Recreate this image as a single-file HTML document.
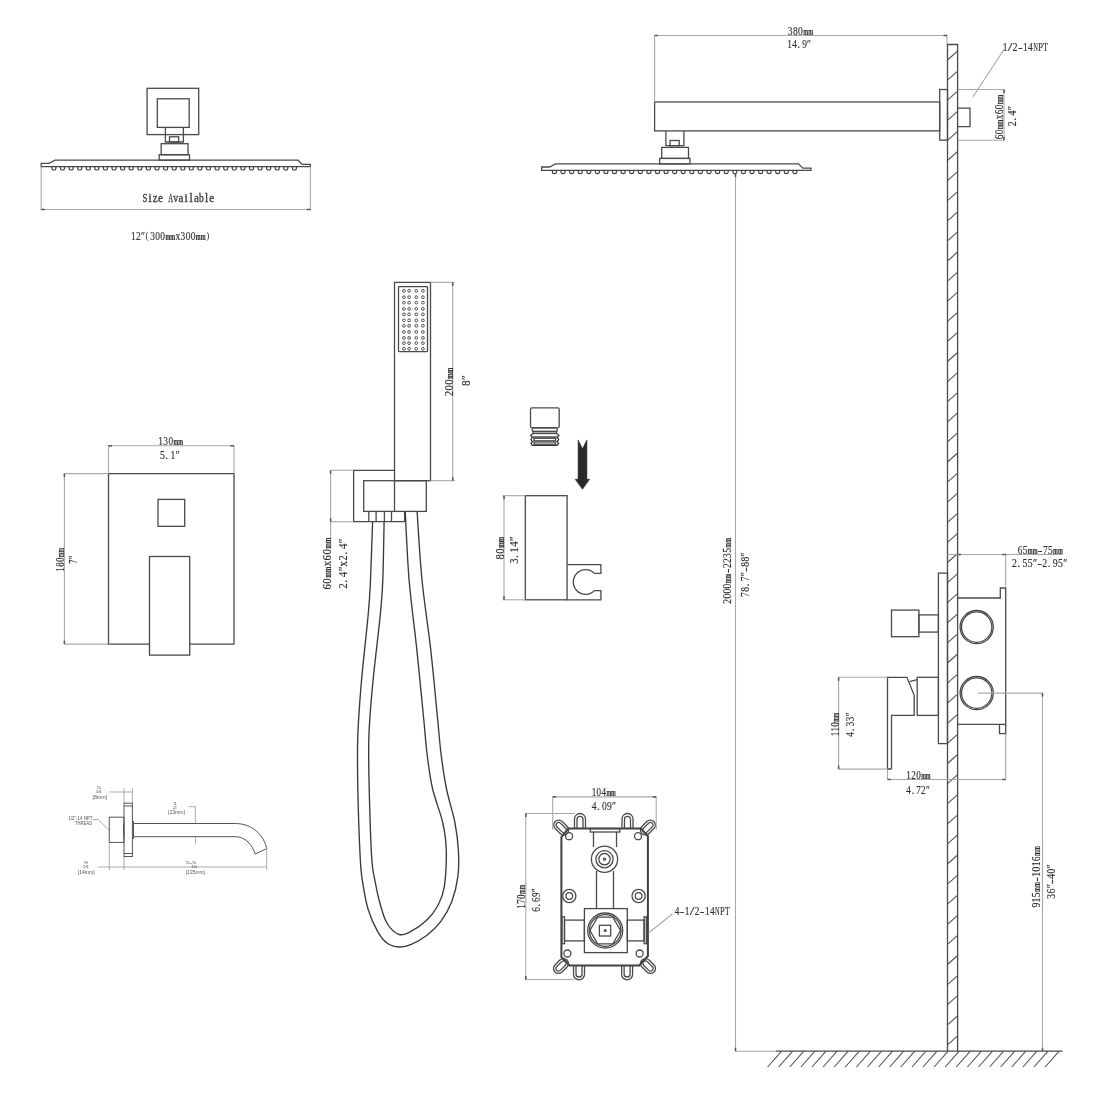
<!DOCTYPE html>
<html><head><meta charset="utf-8"><style>
html,body{margin:0;padding:0;background:#fff;width:1096px;height:1096px;overflow:hidden}
svg{display:block;will-change:transform}
.o{stroke:#4a4a4a;fill:none;stroke-width:1.3}
.o2{stroke:#404040;fill:none;stroke-width:2.2}
.ob{stroke:#404040;fill:none;stroke-width:2}
.d{stroke:#a8a8a8;fill:none;stroke-width:1.1}
.ar{stroke:#555;fill:none;stroke-width:1.5}
.h{stroke:#505050;fill:none;stroke-width:1.05}
.hs{stroke:#3a3a3a;fill:none;stroke-width:1.35}
.nz{stroke:#404040;fill:none;stroke-width:1.2}
.th{stroke:#303030;fill:none;stroke-width:1.3}
.th2{stroke:#888;fill:none;stroke-width:0.8}
.sp .o{stroke:#555;stroke-width:1.0}
.sp .d{stroke:#777;stroke-width:0.6}
.dot{stroke:#404040;fill:none;stroke-width:0.9}
.t text{font-family:"Liberation Serif",serif;fill:#2e2e2e;stroke:#2e2e2e;stroke-width:0.15}
.ts{font-family:"Liberation Sans",sans-serif;fill:#555}
</style></head><body>
<svg width="1096" height="1096" viewBox="0 0 1096 1096">
<path class="o" d="M41.2,163.3 L49,163.3 L55,160.2 L298,160.2 L302.3,164.4 L310.4,164.4 L310.4,166.6 L41.2,166.6 Z" />
<path class="nz" d="M51.9,166.6 L51.9,168.4 Q51.9,170 53.9,170 Q55.9,170 55.9,168.4 L55.9,166.6" />
<path class="nz" d="M60.5,166.6 L60.5,168.4 Q60.5,170 62.5,170 Q64.5,170 64.5,168.4 L64.5,166.6" />
<path class="nz" d="M69.1,166.6 L69.1,168.4 Q69.1,170 71.1,170 Q73.1,170 73.1,168.4 L73.1,166.6" />
<path class="nz" d="M77.7,166.6 L77.7,168.4 Q77.7,170 79.7,170 Q81.7,170 81.7,168.4 L81.7,166.6" />
<path class="nz" d="M86.3,166.6 L86.3,168.4 Q86.3,170 88.3,170 Q90.3,170 90.3,168.4 L90.3,166.6" />
<path class="nz" d="M94.8,166.6 L94.8,168.4 Q94.8,170 96.8,170 Q98.8,170 98.8,168.4 L98.8,166.6" />
<path class="nz" d="M103.4,166.6 L103.4,168.4 Q103.4,170 105.4,170 Q107.4,170 107.4,168.4 L107.4,166.6" />
<path class="nz" d="M112.0,166.6 L112.0,168.4 Q112.0,170 114.0,170 Q116.0,170 116.0,168.4 L116.0,166.6" />
<path class="nz" d="M120.6,166.6 L120.6,168.4 Q120.6,170 122.6,170 Q124.6,170 124.6,168.4 L124.6,166.6" />
<path class="nz" d="M129.2,166.6 L129.2,168.4 Q129.2,170 131.2,170 Q133.2,170 133.2,168.4 L133.2,166.6" />
<path class="nz" d="M137.8,166.6 L137.8,168.4 Q137.8,170 139.8,170 Q141.8,170 141.8,168.4 L141.8,166.6" />
<path class="nz" d="M146.4,166.6 L146.4,168.4 Q146.4,170 148.4,170 Q150.4,170 150.4,168.4 L150.4,166.6" />
<path class="nz" d="M155.0,166.6 L155.0,168.4 Q155.0,170 157.0,170 Q159.0,170 159.0,168.4 L159.0,166.6" />
<path class="nz" d="M163.6,166.6 L163.6,168.4 Q163.6,170 165.6,170 Q167.6,170 167.6,168.4 L167.6,166.6" />
<path class="nz" d="M172.2,166.6 L172.2,168.4 Q172.2,170 174.2,170 Q176.2,170 176.2,168.4 L176.2,166.6" />
<path class="nz" d="M180.8,166.6 L180.8,168.4 Q180.8,170 182.8,170 Q184.8,170 184.8,168.4 L184.8,166.6" />
<path class="nz" d="M189.3,166.6 L189.3,168.4 Q189.3,170 191.3,170 Q193.3,170 193.3,168.4 L193.3,166.6" />
<path class="nz" d="M197.9,166.6 L197.9,168.4 Q197.9,170 199.9,170 Q201.9,170 201.9,168.4 L201.9,166.6" />
<path class="nz" d="M206.5,166.6 L206.5,168.4 Q206.5,170 208.5,170 Q210.5,170 210.5,168.4 L210.5,166.6" />
<path class="nz" d="M215.1,166.6 L215.1,168.4 Q215.1,170 217.1,170 Q219.1,170 219.1,168.4 L219.1,166.6" />
<path class="nz" d="M223.7,166.6 L223.7,168.4 Q223.7,170 225.7,170 Q227.7,170 227.7,168.4 L227.7,166.6" />
<path class="nz" d="M232.3,166.6 L232.3,168.4 Q232.3,170 234.3,170 Q236.3,170 236.3,168.4 L236.3,166.6" />
<path class="nz" d="M240.9,166.6 L240.9,168.4 Q240.9,170 242.9,170 Q244.9,170 244.9,168.4 L244.9,166.6" />
<path class="nz" d="M249.5,166.6 L249.5,168.4 Q249.5,170 251.5,170 Q253.5,170 253.5,168.4 L253.5,166.6" />
<path class="nz" d="M258.1,166.6 L258.1,168.4 Q258.1,170 260.1,170 Q262.1,170 262.1,168.4 L262.1,166.6" />
<path class="nz" d="M266.6,166.6 L266.6,168.4 Q266.6,170 268.6,170 Q270.6,170 270.6,168.4 L270.6,166.6" />
<path class="nz" d="M275.2,166.6 L275.2,168.4 Q275.2,170 277.2,170 Q279.2,170 279.2,168.4 L279.2,166.6" />
<path class="nz" d="M283.8,166.6 L283.8,168.4 Q283.8,170 285.8,170 Q287.8,170 287.8,168.4 L287.8,166.6" />
<path class="nz" d="M292.4,166.6 L292.4,168.4 Q292.4,170 294.4,170 Q296.4,170 296.4,168.4 L296.4,166.6" />
<rect class="o" x="159.2" y="154.7" width="30.3" height="5.5" />
<rect class="o" x="161.2" y="143.7" width="26.8" height="11.0" />
<rect class="o" x="169.5" y="136.8" width="9.2" height="5.2" />
<path class="o" d="M165.4,127.4 L165.4,142 L183.4,142 L183.4,127.4" />
<path class="o" d="M541.7,167.0 L549.5,167.0 L555.5,163.89999999999998 L798.5,163.89999999999998 L802.8,168.1 L810.9,168.1 L810.9,170.29999999999998 L541.7,170.29999999999998 Z" />
<path class="nz" d="M552.4,170.29999999999998 L552.4,172.1 Q552.4,173.7 554.4,173.7 Q556.4,173.7 556.4,172.1 L556.4,170.29999999999998" />
<path class="nz" d="M561.0,170.29999999999998 L561.0,172.1 Q561.0,173.7 563.0,173.7 Q565.0,173.7 565.0,172.1 L565.0,170.29999999999998" />
<path class="nz" d="M569.6,170.29999999999998 L569.6,172.1 Q569.6,173.7 571.6,173.7 Q573.6,173.7 573.6,172.1 L573.6,170.29999999999998" />
<path class="nz" d="M578.2,170.29999999999998 L578.2,172.1 Q578.2,173.7 580.2,173.7 Q582.2,173.7 582.2,172.1 L582.2,170.29999999999998" />
<path class="nz" d="M586.8,170.29999999999998 L586.8,172.1 Q586.8,173.7 588.8,173.7 Q590.8,173.7 590.8,172.1 L590.8,170.29999999999998" />
<path class="nz" d="M595.4,170.29999999999998 L595.4,172.1 Q595.4,173.7 597.4,173.7 Q599.4,173.7 599.4,172.1 L599.4,170.29999999999998" />
<path class="nz" d="M603.9,170.29999999999998 L603.9,172.1 Q603.9,173.7 605.9,173.7 Q607.9,173.7 607.9,172.1 L607.9,170.29999999999998" />
<path class="nz" d="M612.5,170.29999999999998 L612.5,172.1 Q612.5,173.7 614.5,173.7 Q616.5,173.7 616.5,172.1 L616.5,170.29999999999998" />
<path class="nz" d="M621.1,170.29999999999998 L621.1,172.1 Q621.1,173.7 623.1,173.7 Q625.1,173.7 625.1,172.1 L625.1,170.29999999999998" />
<path class="nz" d="M629.7,170.29999999999998 L629.7,172.1 Q629.7,173.7 631.7,173.7 Q633.7,173.7 633.7,172.1 L633.7,170.29999999999998" />
<path class="nz" d="M638.3,170.29999999999998 L638.3,172.1 Q638.3,173.7 640.3,173.7 Q642.3,173.7 642.3,172.1 L642.3,170.29999999999998" />
<path class="nz" d="M646.9,170.29999999999998 L646.9,172.1 Q646.9,173.7 648.9,173.7 Q650.9,173.7 650.9,172.1 L650.9,170.29999999999998" />
<path class="nz" d="M655.5,170.29999999999998 L655.5,172.1 Q655.5,173.7 657.5,173.7 Q659.5,173.7 659.5,172.1 L659.5,170.29999999999998" />
<path class="nz" d="M664.1,170.29999999999998 L664.1,172.1 Q664.1,173.7 666.1,173.7 Q668.1,173.7 668.1,172.1 L668.1,170.29999999999998" />
<path class="nz" d="M672.7,170.29999999999998 L672.7,172.1 Q672.7,173.7 674.7,173.7 Q676.7,173.7 676.7,172.1 L676.7,170.29999999999998" />
<path class="nz" d="M681.2,170.29999999999998 L681.2,172.1 Q681.2,173.7 683.2,173.7 Q685.2,173.7 685.2,172.1 L685.2,170.29999999999998" />
<path class="nz" d="M689.8,170.29999999999998 L689.8,172.1 Q689.8,173.7 691.8,173.7 Q693.8,173.7 693.8,172.1 L693.8,170.29999999999998" />
<path class="nz" d="M698.4,170.29999999999998 L698.4,172.1 Q698.4,173.7 700.4,173.7 Q702.4,173.7 702.4,172.1 L702.4,170.29999999999998" />
<path class="nz" d="M707.0,170.29999999999998 L707.0,172.1 Q707.0,173.7 709.0,173.7 Q711.0,173.7 711.0,172.1 L711.0,170.29999999999998" />
<path class="nz" d="M715.6,170.29999999999998 L715.6,172.1 Q715.6,173.7 717.6,173.7 Q719.6,173.7 719.6,172.1 L719.6,170.29999999999998" />
<path class="nz" d="M724.2,170.29999999999998 L724.2,172.1 Q724.2,173.7 726.2,173.7 Q728.2,173.7 728.2,172.1 L728.2,170.29999999999998" />
<path class="nz" d="M732.8,170.29999999999998 L732.8,172.1 Q732.8,173.7 734.8,173.7 Q736.8,173.7 736.8,172.1 L736.8,170.29999999999998" />
<path class="nz" d="M741.4,170.29999999999998 L741.4,172.1 Q741.4,173.7 743.4,173.7 Q745.4,173.7 745.4,172.1 L745.4,170.29999999999998" />
<path class="nz" d="M750.0,170.29999999999998 L750.0,172.1 Q750.0,173.7 752.0,173.7 Q754.0,173.7 754.0,172.1 L754.0,170.29999999999998" />
<path class="nz" d="M758.6,170.29999999999998 L758.6,172.1 Q758.6,173.7 760.6,173.7 Q762.6,173.7 762.6,172.1 L762.6,170.29999999999998" />
<path class="nz" d="M767.1,170.29999999999998 L767.1,172.1 Q767.1,173.7 769.1,173.7 Q771.1,173.7 771.1,172.1 L771.1,170.29999999999998" />
<path class="nz" d="M775.7,170.29999999999998 L775.7,172.1 Q775.7,173.7 777.7,173.7 Q779.7,173.7 779.7,172.1 L779.7,170.29999999999998" />
<path class="nz" d="M784.3,170.29999999999998 L784.3,172.1 Q784.3,173.7 786.3,173.7 Q788.3,173.7 788.3,172.1 L788.3,170.29999999999998" />
<path class="nz" d="M792.9,170.29999999999998 L792.9,172.1 Q792.9,173.7 794.9,173.7 Q796.9,173.7 796.9,172.1 L796.9,170.29999999999998" />
<rect class="o" x="659.7" y="158.4" width="30.3" height="5.5" />
<rect class="o" x="661.7" y="147.4" width="26.8" height="11.0" />
<rect class="o" x="670.0" y="140.5" width="9.2" height="5.2" />
<path class="o" d="M665.9,131.1 L665.9,145.7 L683.9,145.7 L683.9,131.1" />
<rect class="o" x="147.1" y="88.3" width="51.6" height="46.3" />
<rect class="o" x="157.3" y="98.8" width="31.9" height="28.6" style="fill:#fff"/>
<line class="d" x1="41.2" y1="166.6" x2="41.2" y2="210.3"/>
<line class="d" x1="310.4" y1="166.6" x2="310.4" y2="210.3"/>
<line class="d" x1="41.2" y1="209.5" x2="310.4" y2="209.5"/>
<g style="font-family:&quot;Liberation Serif&quot;,serif;fill:#3a3a3a;stroke:#3a3a3a;stroke-width:0.3" font-size="11.5"><text x="142.53" y="201.5" textLength="4.88" lengthAdjust="spacingAndGlyphs">S</text><text x="148.51" y="201.5" textLength="3.20" lengthAdjust="spacingAndGlyphs">i</text><text x="152.80" y="201.5" textLength="4.88" lengthAdjust="spacingAndGlyphs">z</text><text x="157.94" y="201.5" textLength="4.88" lengthAdjust="spacingAndGlyphs">e</text><text x="168.21" y="201.5" textLength="4.88" lengthAdjust="spacingAndGlyphs">A</text><text x="173.34" y="201.5" textLength="4.88" lengthAdjust="spacingAndGlyphs">v</text><text x="178.48" y="201.5" textLength="4.88" lengthAdjust="spacingAndGlyphs">a</text><text x="184.46" y="201.5" textLength="3.20" lengthAdjust="spacingAndGlyphs">i</text><text x="189.59" y="201.5" textLength="3.20" lengthAdjust="spacingAndGlyphs">l</text><text x="193.89" y="201.5" textLength="4.88" lengthAdjust="spacingAndGlyphs">a</text><text x="199.02" y="201.5" textLength="4.88" lengthAdjust="spacingAndGlyphs">b</text><text x="205.00" y="201.5" textLength="3.20" lengthAdjust="spacingAndGlyphs">l</text><text x="209.29" y="201.5" textLength="4.88" lengthAdjust="spacingAndGlyphs">e</text></g>
<g class="t" transform="translate(130.8,239.5)"><text x="0.15" y="0" font-size="11.5" textLength="4.71" lengthAdjust="spacingAndGlyphs">1</text><text x="5.21" y="0" font-size="11.5" textLength="4.71" lengthAdjust="spacingAndGlyphs">2</text><text x="10.23" y="0" font-size="11.5" textLength="4.05" lengthAdjust="spacingAndGlyphs">&#8243;</text><text x="14.78" y="-0.6" font-size="9.8" textLength="3.04" lengthAdjust="spacingAndGlyphs" style="stroke-width:0">(</text><text x="19.39" y="0" font-size="11.5" textLength="4.71" lengthAdjust="spacingAndGlyphs">3</text><text x="24.45" y="0" font-size="11.5" textLength="4.71" lengthAdjust="spacingAndGlyphs">0</text><text x="29.52" y="0" font-size="11.5" textLength="4.71" lengthAdjust="spacingAndGlyphs">0</text><text x="34.63" y="0" font-size="10.9" font-weight="bold" textLength="9.73" lengthAdjust="spacingAndGlyphs">mm</text><text x="44.71" y="0" font-size="11.5" textLength="4.71" lengthAdjust="spacingAndGlyphs">x</text><text x="49.77" y="0" font-size="11.5" textLength="4.71" lengthAdjust="spacingAndGlyphs">3</text><text x="54.83" y="0" font-size="11.5" textLength="4.71" lengthAdjust="spacingAndGlyphs">0</text><text x="59.90" y="0" font-size="11.5" textLength="4.71" lengthAdjust="spacingAndGlyphs">0</text><text x="65.01" y="0" font-size="10.9" font-weight="bold" textLength="9.73" lengthAdjust="spacingAndGlyphs">mm</text><text x="75.54" y="-0.6" font-size="9.8" textLength="3.04" lengthAdjust="spacingAndGlyphs" style="stroke-width:0">)</text></g>
<rect class="o" x="654.6" y="102.0" width="285.1" height="28.9" />
<rect class="o" x="939.7" y="89.5" width="7.8" height="50.7" />
<path class="o" d="M957.6,108.1 L970,108.1 L970,126.7 L957.6,126.7" />
<line class="d" x1="654.6" y1="35.5" x2="947.0" y2="35.5"/>
<line class="d" x1="654.6" y1="35.5" x2="654.6" y2="102.0"/>
<line class="d" x1="947.0" y1="35.5" x2="947.0" y2="44.5"/>
<g class="t" transform="translate(787.7,35.0)"><text x="0.15" y="0" font-size="11.5" textLength="4.76" lengthAdjust="spacingAndGlyphs">3</text><text x="5.27" y="0" font-size="11.5" textLength="4.76" lengthAdjust="spacingAndGlyphs">8</text><text x="10.39" y="0" font-size="11.5" textLength="4.76" lengthAdjust="spacingAndGlyphs">0</text><text x="15.56" y="0" font-size="10.9" font-weight="bold" textLength="9.84" lengthAdjust="spacingAndGlyphs">mm</text></g>
<g class="t" transform="translate(787.0,47.6)"><text x="0.15" y="0" font-size="11.5" textLength="4.65" lengthAdjust="spacingAndGlyphs">1</text><text x="5.15" y="0" font-size="11.5" textLength="4.65" lengthAdjust="spacingAndGlyphs">4</text><text x="10.30" y="0" font-size="11.5">.</text><text x="15.15" y="0" font-size="11.5" textLength="4.65" lengthAdjust="spacingAndGlyphs">9</text><text x="20.10" y="0" font-size="11.5" textLength="4.00" lengthAdjust="spacingAndGlyphs">&#8243;</text></g>
<line class="d" x1="957.6" y1="89.5" x2="1004.0" y2="89.5"/>
<line class="d" x1="957.6" y1="140.2" x2="1004.0" y2="140.2"/>
<line class="d" x1="1004.0" y1="89.5" x2="1004.0" y2="140.2"/>
<g class="t" transform="translate(1003.0,139.4) rotate(-90)"><text x="0.15" y="0" font-size="11.5" textLength="4.64" lengthAdjust="spacingAndGlyphs">6</text><text x="5.14" y="0" font-size="11.5" textLength="4.64" lengthAdjust="spacingAndGlyphs">0</text><text x="10.18" y="0" font-size="10.9" font-weight="bold" textLength="9.58" lengthAdjust="spacingAndGlyphs">mm</text><text x="20.11" y="0" font-size="11.5" textLength="4.64" lengthAdjust="spacingAndGlyphs">x</text><text x="25.09" y="0" font-size="11.5" textLength="4.64" lengthAdjust="spacingAndGlyphs">6</text><text x="30.08" y="0" font-size="11.5" textLength="4.64" lengthAdjust="spacingAndGlyphs">0</text><text x="35.12" y="0" font-size="10.9" font-weight="bold" textLength="9.58" lengthAdjust="spacingAndGlyphs">mm</text></g>
<g class="t" transform="translate(1015.8,126.3) rotate(-90)"><text x="0.15" y="0" font-size="11.5" textLength="4.97" lengthAdjust="spacingAndGlyphs">2</text><text x="5.64" y="0" font-size="11.5">.</text><text x="10.83" y="0" font-size="11.5" textLength="4.97" lengthAdjust="spacingAndGlyphs">4</text><text x="16.13" y="0" font-size="11.5" textLength="4.27" lengthAdjust="spacingAndGlyphs">&#8243;</text></g>
<line class="d" x1="973.0" y1="96.8" x2="1004.0" y2="49.5"/>
<g class="t" transform="translate(1002.5,51.0)"><text x="0.15" y="0" font-size="11.5" textLength="4.73" lengthAdjust="spacingAndGlyphs">1</text><text x="5.24" y="0" font-size="11.5" textLength="4.73" lengthAdjust="spacingAndGlyphs">/</text><text x="10.33" y="0" font-size="11.5" textLength="4.73" lengthAdjust="spacingAndGlyphs">2</text><text x="15.42" y="0" font-size="11.5" textLength="4.73" lengthAdjust="spacingAndGlyphs">-</text><text x="20.51" y="0" font-size="11.5" textLength="4.73" lengthAdjust="spacingAndGlyphs">1</text><text x="25.59" y="0" font-size="11.5" textLength="4.73" lengthAdjust="spacingAndGlyphs">4</text><text x="30.68" y="0" font-size="11.5" textLength="4.73" lengthAdjust="spacingAndGlyphs">N</text><text x="35.77" y="0" font-size="11.5" textLength="4.73" lengthAdjust="spacingAndGlyphs">P</text><text x="40.86" y="0" font-size="11.5" textLength="4.73" lengthAdjust="spacingAndGlyphs">T</text></g>
<path class="o" d="M947.5,1051.2 L947.5,44.5 L957.6,44.5 L957.6,1051.2" />
<line class="h" x1="947.5" y1="60.0" x2="957.6" y2="51.0"/>
<line class="h" x1="947.5" y1="80.1" x2="957.6" y2="71.1"/>
<line class="h" x1="947.5" y1="100.2" x2="957.6" y2="91.2"/>
<line class="h" x1="947.5" y1="120.3" x2="957.6" y2="111.3"/>
<line class="h" x1="947.5" y1="140.4" x2="957.6" y2="131.4"/>
<line class="h" x1="947.5" y1="160.5" x2="957.6" y2="151.5"/>
<line class="h" x1="947.5" y1="180.6" x2="957.6" y2="171.6"/>
<line class="h" x1="947.5" y1="200.7" x2="957.6" y2="191.7"/>
<line class="h" x1="947.5" y1="220.8" x2="957.6" y2="211.8"/>
<line class="h" x1="947.5" y1="240.9" x2="957.6" y2="231.9"/>
<line class="h" x1="947.5" y1="261.0" x2="957.6" y2="252.0"/>
<line class="h" x1="947.5" y1="281.1" x2="957.6" y2="272.1"/>
<line class="h" x1="947.5" y1="301.2" x2="957.6" y2="292.2"/>
<line class="h" x1="947.5" y1="321.3" x2="957.6" y2="312.3"/>
<line class="h" x1="947.5" y1="341.4" x2="957.6" y2="332.4"/>
<line class="h" x1="947.5" y1="361.5" x2="957.6" y2="352.5"/>
<line class="h" x1="947.5" y1="381.6" x2="957.6" y2="372.6"/>
<line class="h" x1="947.5" y1="401.7" x2="957.6" y2="392.7"/>
<line class="h" x1="947.5" y1="421.8" x2="957.6" y2="412.8"/>
<line class="h" x1="947.5" y1="441.9" x2="957.6" y2="432.9"/>
<line class="h" x1="947.5" y1="462.0" x2="957.6" y2="453.0"/>
<line class="h" x1="947.5" y1="482.1" x2="957.6" y2="473.1"/>
<line class="h" x1="947.5" y1="502.2" x2="957.6" y2="493.2"/>
<line class="h" x1="947.5" y1="522.3" x2="957.6" y2="513.3"/>
<line class="h" x1="947.5" y1="542.4" x2="957.6" y2="533.4"/>
<line class="h" x1="947.5" y1="562.5" x2="957.6" y2="553.5"/>
<line class="h" x1="947.5" y1="582.6" x2="957.6" y2="573.6"/>
<line class="h" x1="947.5" y1="602.7" x2="957.6" y2="593.7"/>
<line class="h" x1="947.5" y1="622.8" x2="957.6" y2="613.8"/>
<line class="h" x1="947.5" y1="642.9" x2="957.6" y2="633.9"/>
<line class="h" x1="947.5" y1="663.0" x2="957.6" y2="654.0"/>
<line class="h" x1="947.5" y1="683.1" x2="957.6" y2="674.1"/>
<line class="h" x1="947.5" y1="703.2" x2="957.6" y2="694.2"/>
<line class="h" x1="947.5" y1="723.3" x2="957.6" y2="714.3"/>
<line class="h" x1="947.5" y1="743.4" x2="957.6" y2="734.4"/>
<line class="h" x1="947.5" y1="763.5" x2="957.6" y2="754.5"/>
<line class="h" x1="947.5" y1="783.6" x2="957.6" y2="774.6"/>
<line class="h" x1="947.5" y1="803.7" x2="957.6" y2="794.7"/>
<line class="h" x1="947.5" y1="823.8" x2="957.6" y2="814.8"/>
<line class="h" x1="947.5" y1="843.9" x2="957.6" y2="834.9"/>
<line class="h" x1="947.5" y1="864.0" x2="957.6" y2="855.0"/>
<line class="h" x1="947.5" y1="884.1" x2="957.6" y2="875.1"/>
<line class="h" x1="947.5" y1="904.2" x2="957.6" y2="895.2"/>
<line class="h" x1="947.5" y1="924.3" x2="957.6" y2="915.3"/>
<line class="h" x1="947.5" y1="944.4" x2="957.6" y2="935.4"/>
<line class="h" x1="947.5" y1="964.5" x2="957.6" y2="955.5"/>
<line class="h" x1="947.5" y1="984.6" x2="957.6" y2="975.6"/>
<line class="h" x1="947.5" y1="1004.7" x2="957.6" y2="995.7"/>
<line class="h" x1="947.5" y1="1024.8" x2="957.6" y2="1015.8"/>
<line class="h" x1="947.5" y1="1044.9" x2="957.6" y2="1035.9"/>
<line class="d" x1="735.5" y1="1051.2" x2="775.8" y2="1051.2"/>
<line class="o" x1="775.8" y1="1051.2" x2="1062.6" y2="1051.2"/>
<line class="h" x1="767.6" y1="1067.0" x2="781.6" y2="1051.2"/>
<line class="h" x1="778.7" y1="1067.0" x2="792.7" y2="1051.2"/>
<line class="h" x1="789.8" y1="1067.0" x2="803.8" y2="1051.2"/>
<line class="h" x1="800.9" y1="1067.0" x2="814.9" y2="1051.2"/>
<line class="h" x1="812.0" y1="1067.0" x2="826.0" y2="1051.2"/>
<line class="h" x1="823.1" y1="1067.0" x2="837.1" y2="1051.2"/>
<line class="h" x1="834.2" y1="1067.0" x2="848.2" y2="1051.2"/>
<line class="h" x1="845.3" y1="1067.0" x2="859.3" y2="1051.2"/>
<line class="h" x1="856.4" y1="1067.0" x2="870.4" y2="1051.2"/>
<line class="h" x1="867.5" y1="1067.0" x2="881.5" y2="1051.2"/>
<line class="h" x1="878.6" y1="1067.0" x2="892.6" y2="1051.2"/>
<line class="h" x1="889.7" y1="1067.0" x2="903.7" y2="1051.2"/>
<line class="h" x1="900.8" y1="1067.0" x2="914.8" y2="1051.2"/>
<line class="h" x1="911.9" y1="1067.0" x2="925.9" y2="1051.2"/>
<line class="h" x1="923.0" y1="1067.0" x2="937.0" y2="1051.2"/>
<line class="h" x1="934.1" y1="1067.0" x2="948.1" y2="1051.2"/>
<line class="h" x1="945.2" y1="1067.0" x2="959.2" y2="1051.2"/>
<line class="h" x1="956.3" y1="1067.0" x2="970.3" y2="1051.2"/>
<line class="h" x1="967.4" y1="1067.0" x2="981.4" y2="1051.2"/>
<line class="h" x1="978.5" y1="1067.0" x2="992.5" y2="1051.2"/>
<line class="h" x1="989.6" y1="1067.0" x2="1003.6" y2="1051.2"/>
<line class="h" x1="1000.7" y1="1067.0" x2="1014.7" y2="1051.2"/>
<line class="h" x1="1011.8" y1="1067.0" x2="1025.8" y2="1051.2"/>
<line class="h" x1="1022.9" y1="1067.0" x2="1036.9" y2="1051.2"/>
<line class="h" x1="1034.0" y1="1067.0" x2="1048.0" y2="1051.2"/>
<line class="h" x1="1045.1" y1="1067.0" x2="1059.1" y2="1051.2"/>
<line class="d" x1="735.5" y1="173.5" x2="735.5" y2="1051.2"/>
<g class="t" transform="translate(731.3,603.8) rotate(-90)"><text x="0.15" y="0" font-size="11.5" textLength="4.73" lengthAdjust="spacingAndGlyphs">2</text><text x="5.23" y="0" font-size="11.5" textLength="4.73" lengthAdjust="spacingAndGlyphs">0</text><text x="10.32" y="0" font-size="11.5" textLength="4.73" lengthAdjust="spacingAndGlyphs">0</text><text x="15.40" y="0" font-size="11.5" textLength="4.73" lengthAdjust="spacingAndGlyphs">0</text><text x="20.54" y="0" font-size="10.9" font-weight="bold" textLength="9.77" lengthAdjust="spacingAndGlyphs">mm</text><text x="30.66" y="0" font-size="11.5" textLength="4.73" lengthAdjust="spacingAndGlyphs">-</text><text x="35.74" y="0" font-size="11.5" textLength="4.73" lengthAdjust="spacingAndGlyphs">2</text><text x="40.83" y="0" font-size="11.5" textLength="4.73" lengthAdjust="spacingAndGlyphs">2</text><text x="45.91" y="0" font-size="11.5" textLength="4.73" lengthAdjust="spacingAndGlyphs">3</text><text x="51.00" y="0" font-size="11.5" textLength="4.73" lengthAdjust="spacingAndGlyphs">5</text><text x="56.13" y="0" font-size="10.9" font-weight="bold" textLength="9.77" lengthAdjust="spacingAndGlyphs">mm</text></g>
<g class="t" transform="translate(748.6,597.1) rotate(-90)"><text x="0.15" y="0" font-size="11.5" textLength="4.83" lengthAdjust="spacingAndGlyphs">7</text><text x="5.35" y="0" font-size="11.5" textLength="4.83" lengthAdjust="spacingAndGlyphs">8</text><text x="10.70" y="0" font-size="11.5">.</text><text x="15.74" y="0" font-size="11.5" textLength="4.83" lengthAdjust="spacingAndGlyphs">7</text><text x="20.89" y="0" font-size="11.5" textLength="4.16" lengthAdjust="spacingAndGlyphs">&#8243;</text><text x="25.10" y="0" font-size="11.5" textLength="4.83" lengthAdjust="spacingAndGlyphs">-</text><text x="30.30" y="0" font-size="11.5" textLength="4.83" lengthAdjust="spacingAndGlyphs">8</text><text x="35.49" y="0" font-size="11.5" textLength="4.83" lengthAdjust="spacingAndGlyphs">8</text><text x="40.64" y="0" font-size="11.5" textLength="4.16" lengthAdjust="spacingAndGlyphs">&#8243;</text></g>
<rect class="o" x="938.4" y="573.1" width="9.1" height="170.5" />
<path class="o" d="M957.6,598 L1000.3,598 L1000.3,588 L1005.7,588 L1005.7,724.4 L1005.7,733.6 L999.5,733.6 L999.5,724.4 L957.6,724.4" />
<line class="o" x1="1005.7" y1="724.4" x2="999.5" y2="724.4"/>
<circle class="o" cx="976.7" cy="627.1" r="16.6" />
<circle class="o" cx="976.7" cy="627.1" r="15.2" />
<circle class="o" cx="976.7" cy="693.1" r="16.6" />
<circle class="o" cx="976.7" cy="693.1" r="15.2" />
<rect class="o" x="918.9" y="614.9" width="19.5" height="17.2" />
<rect class="o" x="891.5" y="610.1" width="27.4" height="26.6" />
<rect class="o" x="917.2" y="677.3" width="21.2" height="38.1" />
<path class="o" d="M891.5,769 L887.5,769 L887.5,677.3 L907,677.3 L914.2,695.3 L914.2,715.4 L891.5,715.4 L891.5,769" />
<path class="o" d="M909.6,681.6 L917.2,679.6" />
<line class="d" x1="947.5" y1="554.5" x2="1062.6" y2="554.5"/>
<line class="d" x1="1005.7" y1="554.5" x2="1005.7" y2="588.0"/>
<g class="t" transform="translate(1017.5,554.0)"><text x="0.15" y="0" font-size="11.5" textLength="4.70" lengthAdjust="spacingAndGlyphs">6</text><text x="5.21" y="0" font-size="11.5" textLength="4.70" lengthAdjust="spacingAndGlyphs">5</text><text x="10.31" y="0" font-size="10.9" font-weight="bold" textLength="9.71" lengthAdjust="spacingAndGlyphs">mm</text><text x="20.37" y="0" font-size="11.5" textLength="4.70" lengthAdjust="spacingAndGlyphs">-</text><text x="25.43" y="0" font-size="11.5" textLength="4.70" lengthAdjust="spacingAndGlyphs">7</text><text x="30.48" y="0" font-size="11.5" textLength="4.70" lengthAdjust="spacingAndGlyphs">5</text><text x="35.59" y="0" font-size="10.9" font-weight="bold" textLength="9.71" lengthAdjust="spacingAndGlyphs">mm</text></g>
<g class="t" transform="translate(1011.8,566.8)"><text x="0.15" y="0" font-size="11.5" textLength="4.88" lengthAdjust="spacingAndGlyphs">2</text><text x="5.55" y="0" font-size="11.5">.</text><text x="10.64" y="0" font-size="11.5" textLength="4.88" lengthAdjust="spacingAndGlyphs">5</text><text x="15.89" y="0" font-size="11.5" textLength="4.88" lengthAdjust="spacingAndGlyphs">5</text><text x="21.08" y="0" font-size="11.5" textLength="4.20" lengthAdjust="spacingAndGlyphs">&#8243;</text><text x="25.33" y="0" font-size="11.5" textLength="4.88" lengthAdjust="spacingAndGlyphs">-</text><text x="30.57" y="0" font-size="11.5" textLength="4.88" lengthAdjust="spacingAndGlyphs">2</text><text x="35.97" y="0" font-size="11.5">.</text><text x="41.06" y="0" font-size="11.5" textLength="4.88" lengthAdjust="spacingAndGlyphs">9</text><text x="46.31" y="0" font-size="11.5" textLength="4.88" lengthAdjust="spacingAndGlyphs">5</text><text x="51.50" y="0" font-size="11.5" textLength="4.20" lengthAdjust="spacingAndGlyphs">&#8243;</text></g>
<line class="d" x1="838.6" y1="677.3" x2="887.5" y2="677.3"/>
<line class="d" x1="838.6" y1="769.1" x2="887.5" y2="769.1"/>
<line class="d" x1="838.6" y1="677.3" x2="838.6" y2="769.1"/>
<g class="t" transform="translate(838.5,736.5) rotate(-90)"><text x="0.15" y="0" font-size="11.5" textLength="4.48" lengthAdjust="spacingAndGlyphs">1</text><text x="4.97" y="0" font-size="11.5" textLength="4.48" lengthAdjust="spacingAndGlyphs">1</text><text x="9.79" y="0" font-size="11.5" textLength="4.48" lengthAdjust="spacingAndGlyphs">0</text><text x="14.66" y="0" font-size="10.9" font-weight="bold" textLength="9.24" lengthAdjust="spacingAndGlyphs">mm</text></g>
<g class="t" transform="translate(854.0,737.0) rotate(-90)"><text x="0.15" y="0" font-size="11.5" textLength="4.77" lengthAdjust="spacingAndGlyphs">4</text><text x="5.43" y="0" font-size="11.5">.</text><text x="10.40" y="0" font-size="11.5" textLength="4.77" lengthAdjust="spacingAndGlyphs">3</text><text x="15.53" y="0" font-size="11.5" textLength="4.77" lengthAdjust="spacingAndGlyphs">3</text><text x="20.60" y="0" font-size="11.5" textLength="4.10" lengthAdjust="spacingAndGlyphs">&#8243;</text></g>
<line class="d" x1="887.5" y1="769.0" x2="887.5" y2="779.5"/>
<line class="d" x1="1005.7" y1="733.6" x2="1005.7" y2="779.5"/>
<line class="d" x1="887.5" y1="779.5" x2="1005.7" y2="779.5"/>
<g class="t" transform="translate(906.2,779.3)"><text x="0.15" y="0" font-size="11.5" textLength="4.58" lengthAdjust="spacingAndGlyphs">1</text><text x="5.07" y="0" font-size="11.5" textLength="4.58" lengthAdjust="spacingAndGlyphs">2</text><text x="9.99" y="0" font-size="11.5" textLength="4.58" lengthAdjust="spacingAndGlyphs">0</text><text x="14.96" y="0" font-size="10.9" font-weight="bold" textLength="9.44" lengthAdjust="spacingAndGlyphs">mm</text></g>
<g class="t" transform="translate(906.2,793.5)"><text x="0.15" y="0" font-size="11.5" textLength="4.57" lengthAdjust="spacingAndGlyphs">4</text><text x="5.22" y="0" font-size="11.5">.</text><text x="9.98" y="0" font-size="11.5" textLength="4.57" lengthAdjust="spacingAndGlyphs">7</text><text x="14.90" y="0" font-size="11.5" textLength="4.57" lengthAdjust="spacingAndGlyphs">2</text><text x="19.77" y="0" font-size="11.5" textLength="3.93" lengthAdjust="spacingAndGlyphs">&#8243;</text></g>
<line class="d" x1="977.7" y1="693.1" x2="1043.0" y2="693.1"/>
<line class="d" x1="1042.5" y1="693.1" x2="1042.5" y2="1051.2"/>
<g class="t" transform="translate(1040.0,907.7) rotate(-90)"><text x="0.15" y="0" font-size="11.5" textLength="4.79" lengthAdjust="spacingAndGlyphs">9</text><text x="5.30" y="0" font-size="11.5" textLength="4.79" lengthAdjust="spacingAndGlyphs">1</text><text x="10.45" y="0" font-size="11.5" textLength="4.79" lengthAdjust="spacingAndGlyphs">5</text><text x="15.65" y="0" font-size="10.9" font-weight="bold" textLength="9.90" lengthAdjust="spacingAndGlyphs">mm</text><text x="25.90" y="0" font-size="11.5" textLength="4.79" lengthAdjust="spacingAndGlyphs">-</text><text x="31.05" y="0" font-size="11.5" textLength="4.79" lengthAdjust="spacingAndGlyphs">1</text><text x="36.20" y="0" font-size="11.5" textLength="4.79" lengthAdjust="spacingAndGlyphs">0</text><text x="41.35" y="0" font-size="11.5" textLength="4.79" lengthAdjust="spacingAndGlyphs">1</text><text x="46.50" y="0" font-size="11.5" textLength="4.79" lengthAdjust="spacingAndGlyphs">6</text><text x="51.70" y="0" font-size="10.9" font-weight="bold" textLength="9.90" lengthAdjust="spacingAndGlyphs">mm</text></g>
<g class="t" transform="translate(1054.5,898.8) rotate(-90)"><text x="0.15" y="0" font-size="11.5" textLength="4.86" lengthAdjust="spacingAndGlyphs">3</text><text x="5.38" y="0" font-size="11.5" textLength="4.86" lengthAdjust="spacingAndGlyphs">6</text><text x="10.55" y="0" font-size="11.5" textLength="4.18" lengthAdjust="spacingAndGlyphs">&#8243;</text><text x="14.79" y="0" font-size="11.5" textLength="4.86" lengthAdjust="spacingAndGlyphs">-</text><text x="20.01" y="0" font-size="11.5" textLength="4.86" lengthAdjust="spacingAndGlyphs">4</text><text x="25.24" y="0" font-size="11.5" textLength="4.86" lengthAdjust="spacingAndGlyphs">0</text><text x="30.42" y="0" font-size="11.5" textLength="4.18" lengthAdjust="spacingAndGlyphs">&#8243;</text></g>
<path class="o" d="M149.5,644.1 L108.5,644.1 L108.5,473.6 L234,473.6 L234,644.1 L189.7,644.1" />
<rect class="o" x="158.0" y="499.4" width="26.7" height="26.9" />
<rect class="o" x="149.5" y="556.5" width="40.2" height="98.6" />
<line class="d" x1="108.5" y1="445.8" x2="234.0" y2="445.8"/>
<line class="d" x1="108.5" y1="445.8" x2="108.5" y2="473.6"/>
<line class="d" x1="234.0" y1="445.8" x2="234.0" y2="473.6"/>
<g class="t" transform="translate(158.2,445.3)"><text x="0.15" y="0" font-size="11.5" textLength="4.67" lengthAdjust="spacingAndGlyphs">1</text><text x="5.17" y="0" font-size="11.5" textLength="4.67" lengthAdjust="spacingAndGlyphs">3</text><text x="10.19" y="0" font-size="11.5" textLength="4.67" lengthAdjust="spacingAndGlyphs">0</text><text x="15.26" y="0" font-size="10.9" font-weight="bold" textLength="9.64" lengthAdjust="spacingAndGlyphs">mm</text></g>
<g class="t" transform="translate(159.8,458.8)"><text x="0.15" y="0" font-size="11.5" textLength="4.87" lengthAdjust="spacingAndGlyphs">5</text><text x="5.54" y="0" font-size="11.5">.</text><text x="10.62" y="0" font-size="11.5" textLength="4.87" lengthAdjust="spacingAndGlyphs">1</text><text x="15.81" y="0" font-size="11.5" textLength="4.19" lengthAdjust="spacingAndGlyphs">&#8243;</text></g>
<line class="d" x1="64.4" y1="473.6" x2="108.5" y2="473.6"/>
<line class="d" x1="64.4" y1="644.1" x2="108.5" y2="644.1"/>
<line class="d" x1="64.4" y1="473.6" x2="64.4" y2="644.1"/>
<g class="t" transform="translate(64.0,571.8) rotate(-90)"><text x="0.15" y="0" font-size="11.5" textLength="4.46" lengthAdjust="spacingAndGlyphs">1</text><text x="4.95" y="0" font-size="11.5" textLength="4.46" lengthAdjust="spacingAndGlyphs">8</text><text x="9.75" y="0" font-size="11.5" textLength="4.46" lengthAdjust="spacingAndGlyphs">0</text><text x="14.60" y="0" font-size="10.9" font-weight="bold" textLength="9.20" lengthAdjust="spacingAndGlyphs">mm</text></g>
<g class="t" transform="translate(77.0,563.8) rotate(-90)"><text x="0.15" y="0" font-size="11.5" textLength="4.13" lengthAdjust="spacingAndGlyphs">7</text><text x="4.54" y="0" font-size="11.5" textLength="3.56" lengthAdjust="spacingAndGlyphs">&#8243;</text></g>
<g class="sp">
<rect class="o" x="124.0" y="803.2" width="8.4" height="53.3" />
<line class="o" x1="124.0" y1="806.0" x2="132.4" y2="806.0"/>
<line class="o" x1="124.0" y1="853.5" x2="132.4" y2="853.5"/>
<rect class="o" x="109.3" y="817.2" width="14.7" height="25.2" />
<line class="o" x1="123.6" y1="824.0" x2="123.6" y2="837.0"/>
<path class="o" d="M133.5,823.5 L235.2,823.5 C252,823.5 264,835 266.7,848.7 L255.2,854 C252,845 246,836.7 235.2,836.7 L133.5,836.7" />
<line class="o" x1="133.5" y1="821.0" x2="133.5" y2="839.0"/>
<line class="d" x1="97.8" y1="867.0" x2="266.7" y2="867.0"/>
<line class="d" x1="109.3" y1="842.4" x2="109.3" y2="870.0"/>
<line class="d" x1="124.0" y1="856.5" x2="124.0" y2="870.0"/>
<line class="d" x1="266.7" y1="848.7" x2="266.7" y2="870.0"/>
<line class="d" x1="109.3" y1="792.0" x2="132.4" y2="792.0"/>
<line class="d" x1="124.0" y1="788.0" x2="124.0" y2="803.0"/>
<line class="d" x1="132.4" y1="788.0" x2="132.4" y2="803.0"/>
<path class="d" d="M92.6,819.6 L98.4,819.6 L109.4,830.6" />
<path class="d" d="M188.4,806.7 L195.4,806.7 L195.4,823.5" />
<line class="d" x1="195.4" y1="836.7" x2="195.4" y2="843.5"/>
<g class="ts">
<text class="ts" x="97.0" y="788.5" font-size="4" textLength="4.0" lengthAdjust="spacingAndGlyphs">5</text>
<text class="ts" x="95.5" y="792.5" font-size="4" textLength="6.0" lengthAdjust="spacingAndGlyphs">16</text>
<text class="ts" x="92.5" y="798.5" font-size="4.5" textLength="14.5" lengthAdjust="spacingAndGlyphs">[8mm]</text>
<text class="ts" x="68.4" y="819.5" font-size="4.5" textLength="24.1" lengthAdjust="spacingAndGlyphs">1/2&quot;-14 NPT</text>
<text class="ts" x="75.0" y="825.0" font-size="4.5" textLength="17.0" lengthAdjust="spacingAndGlyphs">THREAD</text>
<text class="ts" x="173.0" y="804.5" font-size="4" textLength="4.0" lengthAdjust="spacingAndGlyphs">1</text>
<text class="ts" x="173.0" y="809.0" font-size="4" textLength="4.0" lengthAdjust="spacingAndGlyphs">2</text>
<text class="ts" x="168.0" y="814.0" font-size="4.5" textLength="17.0" lengthAdjust="spacingAndGlyphs">[13mm]</text>
<text class="ts" x="84.0" y="863.5" font-size="4" textLength="4.0" lengthAdjust="spacingAndGlyphs">9</text>
<text class="ts" x="82.5" y="867.5" font-size="4" textLength="6.0" lengthAdjust="spacingAndGlyphs">16</text>
<text class="ts" x="77.8" y="873.5" font-size="4.5" textLength="16.8" lengthAdjust="spacingAndGlyphs">[14mm]</text>
<text class="ts" x="186.0" y="863.5" font-size="4" textLength="10.0" lengthAdjust="spacingAndGlyphs">5-5</text>
<text class="ts" x="191.0" y="867.5" font-size="4" textLength="6.0" lengthAdjust="spacingAndGlyphs">16</text>
<text class="ts" x="186.0" y="873.5" font-size="4.5" textLength="18.8" lengthAdjust="spacingAndGlyphs">[135mm]</text>
</g>
</g>
<rect class="o" x="394.5" y="282.4" width="36.0" height="198.3" />
<rect class="o" x="398.5" y="286.6" width="29.0" height="65.0" rx="0.8"/>
<circle class="dot" cx="403.9" cy="290.8" r="1.4" />
<circle class="dot" cx="409.1" cy="290.8" r="1.4" />
<circle class="dot" cx="416.3" cy="290.8" r="1.4" />
<circle class="dot" cx="422.9" cy="290.8" r="1.4" />
<circle class="dot" cx="403.9" cy="297.2" r="1.4" />
<circle class="dot" cx="409.1" cy="297.2" r="1.4" />
<circle class="dot" cx="416.3" cy="297.2" r="1.4" />
<circle class="dot" cx="422.9" cy="297.2" r="1.4" />
<circle class="dot" cx="403.9" cy="302.6" r="1.4" />
<circle class="dot" cx="409.1" cy="302.6" r="1.4" />
<circle class="dot" cx="416.3" cy="302.6" r="1.4" />
<circle class="dot" cx="422.9" cy="302.6" r="1.4" />
<circle class="dot" cx="403.9" cy="308.9" r="1.4" />
<circle class="dot" cx="409.1" cy="308.9" r="1.4" />
<circle class="dot" cx="416.3" cy="308.9" r="1.4" />
<circle class="dot" cx="422.9" cy="308.9" r="1.4" />
<circle class="dot" cx="403.9" cy="314.3" r="1.4" />
<circle class="dot" cx="409.1" cy="314.3" r="1.4" />
<circle class="dot" cx="416.3" cy="314.3" r="1.4" />
<circle class="dot" cx="422.9" cy="314.3" r="1.4" />
<circle class="dot" cx="403.9" cy="320.4" r="1.4" />
<circle class="dot" cx="409.1" cy="320.4" r="1.4" />
<circle class="dot" cx="416.3" cy="320.4" r="1.4" />
<circle class="dot" cx="422.9" cy="320.4" r="1.4" />
<circle class="dot" cx="403.9" cy="325.8" r="1.4" />
<circle class="dot" cx="409.1" cy="325.8" r="1.4" />
<circle class="dot" cx="416.3" cy="325.8" r="1.4" />
<circle class="dot" cx="422.9" cy="325.8" r="1.4" />
<circle class="dot" cx="403.9" cy="331.9" r="1.4" />
<circle class="dot" cx="409.1" cy="331.9" r="1.4" />
<circle class="dot" cx="416.3" cy="331.9" r="1.4" />
<circle class="dot" cx="422.9" cy="331.9" r="1.4" />
<circle class="dot" cx="403.9" cy="337.9" r="1.4" />
<circle class="dot" cx="409.1" cy="337.9" r="1.4" />
<circle class="dot" cx="416.3" cy="337.9" r="1.4" />
<circle class="dot" cx="422.9" cy="337.9" r="1.4" />
<circle class="dot" cx="403.9" cy="343.1" r="1.4" />
<circle class="dot" cx="409.1" cy="343.1" r="1.4" />
<circle class="dot" cx="416.3" cy="343.1" r="1.4" />
<circle class="dot" cx="422.9" cy="343.1" r="1.4" />
<circle class="dot" cx="403.9" cy="348.8" r="1.4" />
<circle class="dot" cx="409.1" cy="348.8" r="1.4" />
<circle class="dot" cx="416.3" cy="348.8" r="1.4" />
<circle class="dot" cx="422.9" cy="348.8" r="1.4" />
<line class="d" x1="430.5" y1="282.4" x2="454.3" y2="282.4"/>
<line class="d" x1="430.5" y1="480.7" x2="455.0" y2="480.7"/>
<line class="d" x1="452.7" y1="282.4" x2="452.7" y2="480.7"/>
<g class="t" transform="translate(452.5,396.4) rotate(-90)"><text x="0.15" y="0" font-size="11.5" textLength="5.36" lengthAdjust="spacingAndGlyphs">2</text><text x="5.91" y="0" font-size="11.5" textLength="5.36" lengthAdjust="spacingAndGlyphs">0</text><text x="11.67" y="0" font-size="11.5" textLength="5.36" lengthAdjust="spacingAndGlyphs">0</text><text x="17.48" y="0" font-size="10.9" font-weight="bold" textLength="11.12" lengthAdjust="spacingAndGlyphs">mm</text></g>
<g class="t" transform="translate(469.5,386.2) rotate(-90)"><text x="0.15" y="0" font-size="11.5" textLength="5.63" lengthAdjust="spacingAndGlyphs">8</text><text x="6.16" y="0" font-size="11.5" textLength="4.84" lengthAdjust="spacingAndGlyphs">&#8243;</text></g>
<path class="o" d="M394.5,470.3 L353.6,470.3 L353.6,521.7 L404.6,521.7" />
<rect class="o" x="363.7" y="480.7" width="62.6" height="30.7" />
<line class="o" x1="394.5" y1="480.7" x2="394.5" y2="511.4"/>
<line class="o" x1="368.8" y1="511.4" x2="368.8" y2="521.7"/>
<line class="o" x1="376.1" y1="511.4" x2="376.1" y2="521.7"/>
<line class="o" x1="384.4" y1="511.4" x2="384.4" y2="521.7"/>
<line class="o" x1="391.5" y1="511.4" x2="391.5" y2="521.7"/>
<line class="o" x1="404.6" y1="511.4" x2="404.6" y2="521.7"/>
<line class="d" x1="331.0" y1="470.3" x2="353.6" y2="470.3"/>
<line class="d" x1="331.0" y1="521.7" x2="353.6" y2="521.7"/>
<line class="d" x1="330.6" y1="470.3" x2="330.6" y2="538.0"/>
<g class="t" transform="translate(330.6,589.7) rotate(-90)"><text x="0.15" y="0" font-size="11.5" textLength="5.41" lengthAdjust="spacingAndGlyphs">6</text><text x="5.97" y="0" font-size="11.5" textLength="5.41" lengthAdjust="spacingAndGlyphs">0</text><text x="11.84" y="0" font-size="10.9" font-weight="bold" textLength="11.24" lengthAdjust="spacingAndGlyphs">mm</text><text x="23.44" y="0" font-size="11.5" textLength="5.41" lengthAdjust="spacingAndGlyphs">x</text><text x="29.26" y="0" font-size="11.5" textLength="5.41" lengthAdjust="spacingAndGlyphs">6</text><text x="35.08" y="0" font-size="11.5" textLength="5.41" lengthAdjust="spacingAndGlyphs">0</text><text x="40.96" y="0" font-size="10.9" font-weight="bold" textLength="11.24" lengthAdjust="spacingAndGlyphs">mm</text></g>
<g class="t" transform="translate(346.5,589.0) rotate(-90)"><text x="0.15" y="0" font-size="11.5" textLength="5.45" lengthAdjust="spacingAndGlyphs">2</text><text x="6.16" y="0" font-size="11.5">.</text><text x="11.87" y="0" font-size="11.5" textLength="5.45" lengthAdjust="spacingAndGlyphs">4</text><text x="17.68" y="0" font-size="11.5" textLength="4.69" lengthAdjust="spacingAndGlyphs">&#8243;</text><text x="22.42" y="0" font-size="11.5" textLength="5.45" lengthAdjust="spacingAndGlyphs">x</text><text x="28.28" y="0" font-size="11.5" textLength="5.45" lengthAdjust="spacingAndGlyphs">2</text><text x="34.29" y="0" font-size="11.5">.</text><text x="40.00" y="0" font-size="11.5" textLength="5.45" lengthAdjust="spacingAndGlyphs">4</text><text x="45.81" y="0" font-size="11.5" textLength="4.69" lengthAdjust="spacingAndGlyphs">&#8243;</text></g>
<path class="hs" d="M372.6,521.7 C372.2,531.4 371.2,564.5 370.5,580.0 C369.8,595.5 369.8,597.4 368.2,614.7 C366.6,632.0 362.9,663.8 361.2,684.0 C359.5,704.2 358.4,718.7 357.8,736.0 C357.2,753.3 357.4,767.7 357.8,788.0 C358.2,808.3 359.4,842.1 360.2,857.7 C361.0,873.4 361.3,873.3 362.6,881.9 C363.9,890.5 365.6,901.1 368.1,909.3 C370.6,917.5 374.2,925.6 377.4,931.2 C380.6,936.9 383.5,940.6 387.2,943.2 C390.9,945.8 395.3,946.8 399.3,947.0 C403.3,947.2 406.8,946.2 411.3,944.3 C415.9,942.4 421.7,939.3 426.6,935.5 C431.5,931.7 436.7,926.9 440.9,921.3 C445.1,915.6 449.0,909.1 451.8,901.6 C454.6,894.1 456.8,884.9 457.9,876.4 C459.0,867.9 458.9,859.6 458.4,850.7 C457.9,841.8 457.0,833.5 455.0,823.0 C453.0,812.5 448.6,799.6 446.3,788.0 C444.0,776.4 442.4,765.0 441.0,753.5 C439.6,742.0 439.3,736.1 437.6,718.8 C435.9,701.4 433.3,672.5 430.7,649.4 C428.1,626.3 424.3,603.0 422.0,580.0 C419.7,557.0 417.9,522.8 417.1,511.4" />
<path class="hs" d="M384.1,521.7 C383.9,531.4 383.4,564.5 382.8,580.0 C382.2,595.5 382.0,597.4 380.3,614.7 C378.6,632.0 374.6,663.8 372.7,684.0 C370.8,704.2 369.5,718.7 368.9,736.0 C368.3,753.3 368.7,767.7 369.2,788.0 C369.7,808.3 370.7,842.1 371.7,857.7 C372.7,873.4 373.8,874.2 375.2,881.9 C376.6,889.6 378.1,896.9 380.1,903.8 C382.1,910.7 384.0,918.4 387.2,923.5 C390.4,928.6 395.3,933.2 399.3,934.5 C403.3,935.8 406.8,933.6 411.3,931.2 C415.9,928.8 422.2,924.4 426.6,920.2 C431.0,916.0 434.7,911.5 437.6,906.0 C440.5,900.5 442.8,896.6 444.2,887.4 C445.6,878.2 446.5,861.4 446.3,850.7 C446.1,840.0 445.1,833.5 442.8,823.0 C440.5,812.5 435.0,799.6 432.4,788.0 C429.8,776.4 428.4,765.0 427.0,753.5 C425.6,742.0 425.4,736.1 423.7,718.8 C422.0,701.4 419.2,672.5 416.8,649.4 C414.4,626.3 411.0,603.0 409.1,580.0 C407.2,557.0 405.9,522.8 405.2,511.4" />
<rect class="o" x="530.5" y="407.9" width="28.7" height="19.9" rx="1.5"/>
<rect class="o" x="532.3" y="427.8" width="24.9" height="3.7" rx="1"/>
<rect class="o" x="533.2" y="431.5" width="23.3" height="2.0" />
<path class="o" d="M533.2,433.5 L530.6,435.4 L532.4,437 L557.2,437 L559,435.4 L556.5,433.5" />
<path class="th" d="M532.4,437 L531,439.5 L532.4,441.6 L531,443.6 L532.4,445.4 L557.2,445.4 L558.6,443.6 L557.2,441.6 L558.6,439.5 L557.2,437" />
<rect class="o" x="534.0" y="438.3" width="21.6" height="2.5" />
<rect class="o" x="534.0" y="442.0" width="21.6" height="2.2" />
<path class="fill" d="M578.1,439.9 L582.5,448.7 L586.9,439.9 L586.9,479.3 L589.6,479.3 L582.5,489.2 L575.2,479.3 L578.1,479.3 Z" style="fill:#2a2a2a;stroke:#2a2a2a;stroke-width:0.6"/>
<rect class="o" x="525.3" y="495.7" width="41.8" height="104.1" />
<path class="o" d="M567.1,564.7 L600.9,564.7 L600.9,573.4 L594.4,573.4 A12.3,12.3 0 1 0 594.4,590.6 L600.9,590.6 L600.9,599.8 L567.1,599.8" />
<line class="d" x1="502.6" y1="495.7" x2="525.3" y2="495.7"/>
<line class="d" x1="502.6" y1="599.8" x2="525.3" y2="599.8"/>
<line class="d" x1="504.0" y1="495.7" x2="504.0" y2="599.8"/>
<g class="t" transform="translate(503.5,559.7) rotate(-90)"><text x="0.15" y="0" font-size="11.5" textLength="5.37" lengthAdjust="spacingAndGlyphs">8</text><text x="5.93" y="0" font-size="11.5" textLength="5.37" lengthAdjust="spacingAndGlyphs">0</text><text x="11.75" y="0" font-size="10.9" font-weight="bold" textLength="11.15" lengthAdjust="spacingAndGlyphs">mm</text></g>
<g class="t" transform="translate(518.0,563.9) rotate(-90)"><text x="0.15" y="0" font-size="11.5" textLength="5.29" lengthAdjust="spacingAndGlyphs">3</text><text x="5.99" y="0" font-size="11.5">.</text><text x="11.52" y="0" font-size="11.5" textLength="5.29" lengthAdjust="spacingAndGlyphs">1</text><text x="17.21" y="0" font-size="11.5" textLength="5.29" lengthAdjust="spacingAndGlyphs">4</text><text x="22.85" y="0" font-size="11.5" textLength="4.55" lengthAdjust="spacingAndGlyphs">&#8243;</text></g>
<path class="ob" d="M568.4,828.5 L640.8,828.5 L647.9,836 L647.9,956 L639.2,965.5 L569.6,965.5 L561.4,957 L561.4,837 Z" />
<path class="o" d="M574.5,828.5 L574.5,819 A5.5,5.5 0 0 1 585.5,819 L585.5,828.5" />
<path class="o" d="M577,828.5 L577,819.3 A3,3 0 0 1 583,819.3 L583,828.5" />
<path class="o" d="M622.0,828.5 L622.0,819 A5.5,5.5 0 0 1 633.0,819 L633.0,828.5" />
<path class="o" d="M624.5,828.5 L624.5,819.3 A3,3 0 0 1 630.5,819.3 L630.5,828.5" />
<path class="o" d="M573.5,965.5 L573.5,974.3 A5.5,5.5 0 0 0 584.5,974.3 L584.5,965.5" />
<path class="o" d="M576,965.5 L576,974 A3,3 0 0 0 582,974 L582,965.5" />
<path class="o" d="M621.6,965.5 L621.6,974.3 A5.5,5.5 0 0 0 632.6,974.3 L632.6,965.5" />
<path class="o" d="M624.1,965.5 L624.1,974 A3,3 0 0 0 630.1,974 L630.1,965.5" />
<g transform="translate(561.2,827.5) rotate(-45)"><rect class="o" x="-5" y="-8.5" width="10" height="17" rx="5"/><rect class="o" x="-2.6" y="-6.2" width="5.2" height="12.4" rx="2.6"/></g>
<g transform="translate(647.9,827.5) rotate(45)"><rect class="o" x="-5" y="-8.5" width="10" height="17" rx="5"/><rect class="o" x="-2.6" y="-6.2" width="5.2" height="12.4" rx="2.6"/></g>
<g transform="translate(561,966) rotate(45)"><rect class="o" x="-5" y="-8.5" width="10" height="17" rx="5"/><rect class="o" x="-2.6" y="-6.2" width="5.2" height="12.4" rx="2.6"/></g>
<g transform="translate(648,966) rotate(-45)"><rect class="o" x="-5" y="-8.5" width="10" height="17" rx="5"/><rect class="o" x="-2.6" y="-6.2" width="5.2" height="12.4" rx="2.6"/></g>
<rect class="o" x="590.3" y="828.5" width="29.5" height="3.5" />
<line class="o" x1="593.5" y1="832.0" x2="593.5" y2="847.0"/>
<line class="o" x1="616.5" y1="832.0" x2="616.5" y2="847.0"/>
<line class="o" x1="596.5" y1="871.0" x2="596.5" y2="908.6"/>
<line class="o" x1="613.5" y1="871.0" x2="613.5" y2="908.6"/>
<circle class="o" cx="604.5" cy="859.2" r="13.1" />
<circle class="o" cx="604.5" cy="859.2" r="8.6" />
<circle class="o" cx="604.5" cy="859.2" r="5.7" />
<circle class="o" cx="604.5" cy="859.2" r="1.0" />
<circle class="o" cx="569.1" cy="836.2" r="3.5" />
<circle class="o" cx="638.0" cy="836.2" r="3.5" />
<circle class="o" cx="567.4" cy="953.5" r="3.5" />
<circle class="o" cx="639.7" cy="953.5" r="3.5" />
<circle class="o" cx="569.3" cy="896.0" r="6.6" />
<circle class="o" cx="569.3" cy="896.0" r="3.3" />
<circle class="o" cx="638.6" cy="896.0" r="6.6" />
<circle class="o" cx="638.6" cy="896.0" r="3.3" />
<rect class="o" x="584.4" y="908.6" width="42.9" height="44.0" />
<circle class="o" cx="605.2" cy="930.5" r="17.5" />
<circle class="o" cx="605.2" cy="930.5" r="15.8" />
<polygon class="o" points="620.5,930.5 612.9,943.8 597.6,943.8 589.9,930.5 597.6,917.2 612.9,917.2"/>
<rect class="o" x="599.4" y="925.3" width="11.3" height="10.7" />
<circle class="o" cx="605.2" cy="930.5" r="0.9" />
<rect class="o" x="564.5" y="920.1" width="19.9" height="20.8" />
<rect class="o" x="562.0" y="916.8" width="2.5" height="26.9" />
<rect class="o" x="627.3" y="920.1" width="16.8" height="20.8" />
<rect class="o" x="644.1" y="916.8" width="2.2" height="26.9" />
<line class="d" x1="552.7" y1="796.9" x2="656.2" y2="796.9"/>
<line class="d" x1="552.7" y1="796.9" x2="552.7" y2="830.0"/>
<line class="d" x1="656.2" y1="796.9" x2="656.2" y2="830.0"/>
<g class="t" transform="translate(591.6,796.3)"><text x="0.15" y="0" font-size="11.5" textLength="4.54" lengthAdjust="spacingAndGlyphs">1</text><text x="5.03" y="0" font-size="11.5" textLength="4.54" lengthAdjust="spacingAndGlyphs">0</text><text x="9.91" y="0" font-size="11.5" textLength="4.54" lengthAdjust="spacingAndGlyphs">4</text><text x="14.84" y="0" font-size="10.9" font-weight="bold" textLength="9.36" lengthAdjust="spacingAndGlyphs">mm</text></g>
<g class="t" transform="translate(591.6,809.7)"><text x="0.15" y="0" font-size="11.5" textLength="4.73" lengthAdjust="spacingAndGlyphs">4</text><text x="5.38" y="0" font-size="11.5">.</text><text x="10.32" y="0" font-size="11.5" textLength="4.73" lengthAdjust="spacingAndGlyphs">0</text><text x="15.40" y="0" font-size="11.5" textLength="4.73" lengthAdjust="spacingAndGlyphs">9</text><text x="20.43" y="0" font-size="11.5" textLength="4.07" lengthAdjust="spacingAndGlyphs">&#8243;</text></g>
<line class="d" x1="525.8" y1="813.5" x2="574.8" y2="813.5"/>
<line class="d" x1="525.8" y1="979.5" x2="574.0" y2="979.5"/>
<line class="d" x1="525.8" y1="813.5" x2="525.8" y2="979.5"/>
<g class="t" transform="translate(525.3,908.8) rotate(-90)"><text x="0.15" y="0" font-size="11.5" textLength="4.52" lengthAdjust="spacingAndGlyphs">1</text><text x="5.01" y="0" font-size="11.5" textLength="4.52" lengthAdjust="spacingAndGlyphs">7</text><text x="9.87" y="0" font-size="11.5" textLength="4.52" lengthAdjust="spacingAndGlyphs">0</text><text x="14.78" y="0" font-size="10.9" font-weight="bold" textLength="9.32" lengthAdjust="spacingAndGlyphs">mm</text></g>
<g class="t" transform="translate(540.0,911.9) rotate(-90)"><text x="0.15" y="0" font-size="11.5" textLength="4.57" lengthAdjust="spacingAndGlyphs">6</text><text x="5.22" y="0" font-size="11.5">.</text><text x="9.98" y="0" font-size="11.5" textLength="4.57" lengthAdjust="spacingAndGlyphs">6</text><text x="14.90" y="0" font-size="11.5" textLength="4.57" lengthAdjust="spacingAndGlyphs">9</text><text x="19.77" y="0" font-size="11.5" textLength="3.93" lengthAdjust="spacingAndGlyphs">&#8243;</text></g>
<line class="d" x1="648.5" y1="933.0" x2="672.6" y2="913.8"/>
<g class="t" transform="translate(674.5,914.7)"><text x="0.15" y="0" font-size="11.5" textLength="4.69" lengthAdjust="spacingAndGlyphs">4</text><text x="5.20" y="0" font-size="11.5" textLength="4.69" lengthAdjust="spacingAndGlyphs">-</text><text x="10.24" y="0" font-size="11.5" textLength="4.69" lengthAdjust="spacingAndGlyphs">1</text><text x="15.29" y="0" font-size="11.5" textLength="4.69" lengthAdjust="spacingAndGlyphs">/</text><text x="20.33" y="0" font-size="11.5" textLength="4.69" lengthAdjust="spacingAndGlyphs">2</text><text x="25.38" y="0" font-size="11.5" textLength="4.69" lengthAdjust="spacingAndGlyphs">-</text><text x="30.42" y="0" font-size="11.5" textLength="4.69" lengthAdjust="spacingAndGlyphs">1</text><text x="35.47" y="0" font-size="11.5" textLength="4.69" lengthAdjust="spacingAndGlyphs">4</text><text x="40.51" y="0" font-size="11.5" textLength="4.69" lengthAdjust="spacingAndGlyphs">N</text><text x="45.56" y="0" font-size="11.5" textLength="4.69" lengthAdjust="spacingAndGlyphs">P</text><text x="50.60" y="0" font-size="11.5" textLength="4.69" lengthAdjust="spacingAndGlyphs">T</text></g>
<line class="ar" x1="41.2" y1="209.5" x2="44.7" y2="209.5"/>
<line class="ar" x1="310.4" y1="209.5" x2="306.9" y2="209.5"/>
<line class="ar" x1="654.6" y1="35.5" x2="658.1" y2="35.5"/>
<line class="ar" x1="947.0" y1="35.5" x2="943.5" y2="35.5"/>
<line class="ar" x1="1004.0" y1="89.5" x2="1004.0" y2="93.0"/>
<line class="ar" x1="1004.0" y1="140.2" x2="1004.0" y2="136.7"/>
<line class="ar" x1="735.5" y1="173.5" x2="735.5" y2="177.0"/>
<line class="ar" x1="735.5" y1="1051.2" x2="735.5" y2="1047.7"/>
<line class="ar" x1="957.6" y1="554.5" x2="961.1" y2="554.5"/>
<line class="ar" x1="1005.7" y1="554.5" x2="1002.2" y2="554.5"/>
<line class="ar" x1="838.6" y1="677.3" x2="838.6" y2="680.8"/>
<line class="ar" x1="838.6" y1="769.1" x2="838.6" y2="765.6"/>
<line class="ar" x1="887.5" y1="779.5" x2="891.0" y2="779.5"/>
<line class="ar" x1="1005.7" y1="779.5" x2="1002.2" y2="779.5"/>
<line class="ar" x1="1042.5" y1="693.1" x2="1042.5" y2="696.6"/>
<line class="ar" x1="1042.5" y1="1051.2" x2="1042.5" y2="1047.7"/>
<line class="ar" x1="108.5" y1="445.8" x2="112.0" y2="445.8"/>
<line class="ar" x1="234.0" y1="445.8" x2="230.5" y2="445.8"/>
<line class="ar" x1="64.4" y1="473.6" x2="64.4" y2="477.1"/>
<line class="ar" x1="64.4" y1="644.1" x2="64.4" y2="640.6"/>
<line class="ar" x1="452.7" y1="282.4" x2="452.7" y2="285.9"/>
<line class="ar" x1="452.7" y1="480.7" x2="452.7" y2="477.2"/>
<line class="ar" x1="330.6" y1="470.3" x2="330.6" y2="473.8"/>
<line class="ar" x1="330.6" y1="521.7" x2="330.6" y2="518.2"/>
<line class="ar" x1="504.0" y1="495.7" x2="504.0" y2="499.2"/>
<line class="ar" x1="504.0" y1="599.8" x2="504.0" y2="596.3"/>
<line class="ar" x1="552.7" y1="796.9" x2="556.2" y2="796.9"/>
<line class="ar" x1="656.2" y1="796.9" x2="652.7" y2="796.9"/>
<line class="ar" x1="525.8" y1="813.5" x2="525.8" y2="817.0"/>
<line class="ar" x1="525.8" y1="979.5" x2="525.8" y2="976.0"/>
</svg></body></html>
